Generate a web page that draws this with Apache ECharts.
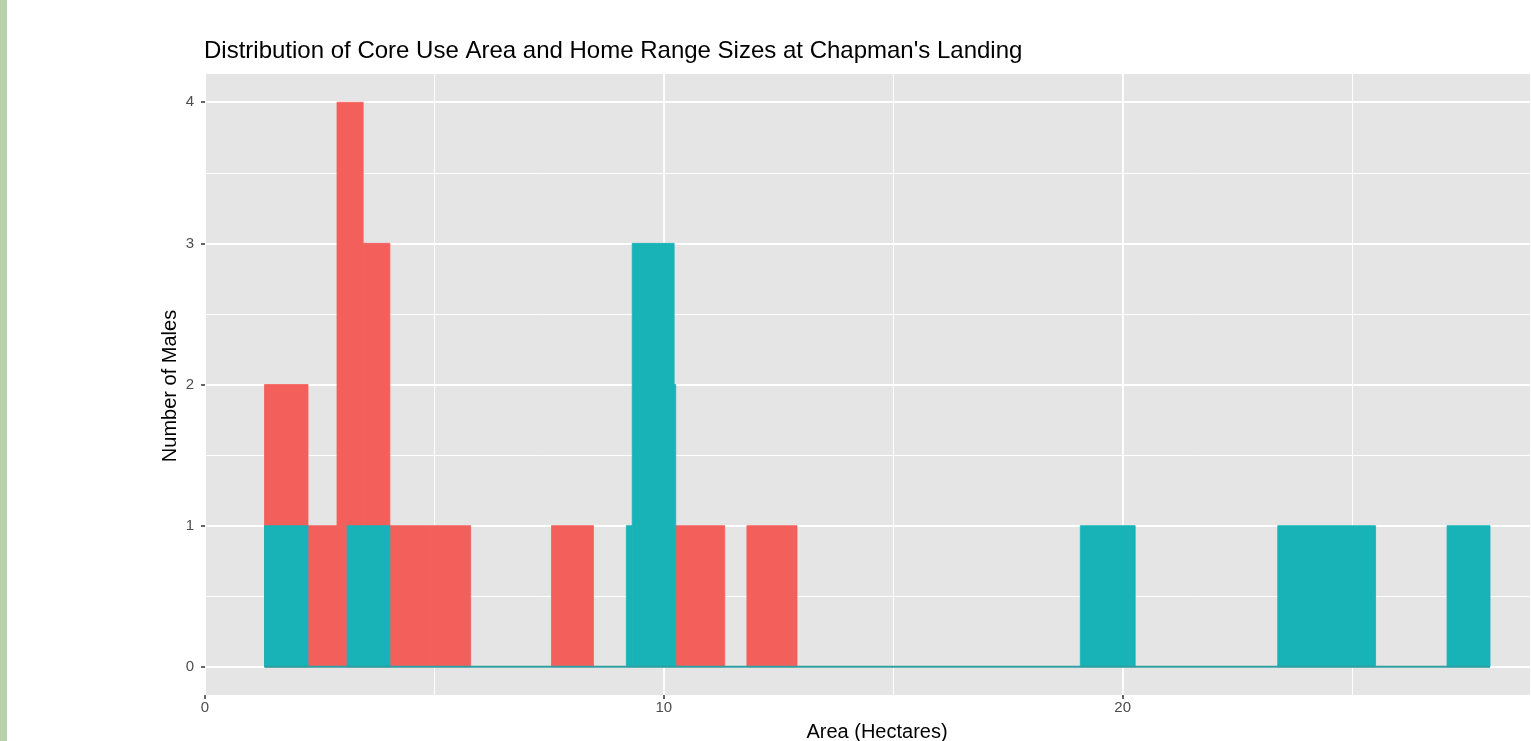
<!DOCTYPE html>
<html><head><meta charset="utf-8">
<script src="https://cdn.jsdelivr.net/npm/echarts@6/dist/echarts.min.js"></script>
<style>html,body{margin:0;padding:0;background:#fff}#c{width:1531px;height:741px}</style>
</head><body><div id="c"></div>
<script>
const titleText = "Distribution of Core Use Area and Home Range Sizes at Chapman's Landing";
const xTitle = "Area (Hectares)";
const yTitle = "Number of Males";
const xMajor = 10, xMinorStep = 5;
const yTicks = [0, 1, 2, 3, 4];
const yMinor = [0.5, 1.5, 2.5, 3.5];
// Core use area bars (red): bar start, bar end (hectares), count
const coreStart = [1.297, 2.245, 2.877, 3.447, 4.03, 4.94, 7.552, 10.25, 11.811];
const coreEnd   = [2.245, 2.877, 3.447, 4.03, 4.94, 5.79, 8.466, 11.327, 12.903];
const coreCount = [2, 1, 4, 3, 1, 1, 1, 1, 1];
// Home range bars (teal)
const homeStart = [1.297, 3.097, 9.183, 9.311, 10.225, 19.078, 23.38, 27.07];
const homeEnd   = [2.245, 4.03, 9.311, 10.225, 10.26, 20.273, 25.512, 28.007];
const homeCount = [1, 1, 1, 3, 2, 1, 1, 1];

const RED = '#F3605C', TEAL = '#18B3B7', BASE = '#2F9EA2';
const FONT = 'Liberation Sans, Arial, Helvetica, sans-serif';

const coreData = coreStart.map((s, i) => [s, coreEnd[i], coreCount[i]]);
const homeData = homeStart.map((s, i) => [s, homeEnd[i], homeCount[i]]);
const baseLine = [[Math.min(...homeStart), 0], [Math.max(...homeEnd), 0]];

function rectRenderer(color) {
  return function (params, api) {
    const p0 = api.coord([api.value(0), api.value(2)]);
    const p1 = api.coord([api.value(1), 0]);
    return {
      type: 'rect',
      shape: { x: p0[0], y: p0[1], width: p1[0] - p0[0], height: p1[1] - p0[1] },
      style: { fill: color, stroke: color, lineWidth: 0.8 }
    };
  };
}

const chart = echarts.init(document.getElementById('c'), null, { renderer: 'canvas' });
const xMax = 28.9;
chart.setOption({
  animation: false,
  backgroundColor: '#ffffff',
  textStyle: { fontFamily: FONT },
  grid: { left: 205, right: 0, top: 74, bottom: 46, show: true, backgroundColor: '#E5E5E5', borderWidth: 0 },
  xAxis: [
    {
      type: 'value', min: 0, max: xMax, interval: xMajor,
      axisLine: { show: false, onZero: false },
      axisTick: { show: true, length: 4, lineStyle: { color: '#333', width: 1.5 } },
      axisLabel: { color: '#4D4D4D', fontSize: 15, margin: 5, fontFamily: FONT, showMaxLabel: false },
      splitLine: { show: true, lineStyle: { color: '#FFFFFF', width: 1.8 } }
    },
    {
      type: 'value', min: 0, max: xMax, interval: xMinorStep, position: 'bottom',
      axisLine: { show: false, onZero: false }, axisTick: { show: false }, axisLabel: { show: false },
      splitLine: { show: true, lineStyle: { color: '#FFFFFF', width: 1 } }
    }
  ],
  yAxis: [
    {
      type: 'value', min: -0.2, max: 4.2,
      axisLine: { show: false, onZero: false },
      axisTick: { show: true, length: 4, customValues: yTicks, lineStyle: { color: '#333', width: 1.5 } },
      axisLabel: { color: '#4D4D4D', fontSize: 15, margin: 11, customValues: yTicks, fontFamily: FONT },
      splitLine: { show: true, lineStyle: { color: '#FFFFFF', width: 1.8 } }
    },
    {
      type: 'value', min: -0.2, max: 4.2, position: 'left',
      axisLine: { show: false, onZero: false },
      axisTick: { show: false, customValues: yMinor },
      axisLabel: { show: false, customValues: yMinor },
      splitLine: { show: true, lineStyle: { color: '#FFFFFF', width: 1 } }
    }
  ],
  series: [
    { type: 'custom', name: 'Core Use Area', xAxisIndex: 0, yAxisIndex: 0, z: 2,
      renderItem: rectRenderer(RED), encode: { x: [0, 1], y: 2 }, data: coreData },
    { type: 'custom', name: 'Home Range', xAxisIndex: 0, yAxisIndex: 0, z: 3,
      renderItem: rectRenderer(TEAL), encode: { x: [0, 1], y: 2 }, data: homeData },
    { type: 'line', xAxisIndex: 0, yAxisIndex: 0, z: 4, symbol: 'none', silent: true,
      lineStyle: { color: BASE, width: 2.2 }, data: baseLine }
  ],
  graphic: [
    { type: 'rect', left: 0, top: 0, shape: { width: 7, height: 741 }, style: { fill: '#B7D2AA' }, silent: true },
    { type: 'text', x: 204, y: 51, style: { text: titleText, fontSize: 24, fontFamily: FONT, fill: '#000', textAlign: 'left', textVerticalAlign: 'middle' } },
    { type: 'text', x: 877, y: 732, style: { text: xTitle, fontSize: 20, fontFamily: FONT, fill: '#000', textAlign: 'center', textVerticalAlign: 'middle' } },
    { type: 'text', x: 170, y: 386, rotation: Math.PI / 2, style: { text: yTitle, fontSize: 20, fontFamily: FONT, fill: '#000', textAlign: 'center', textVerticalAlign: 'middle' } }
  ]
});
</script></body></html>
